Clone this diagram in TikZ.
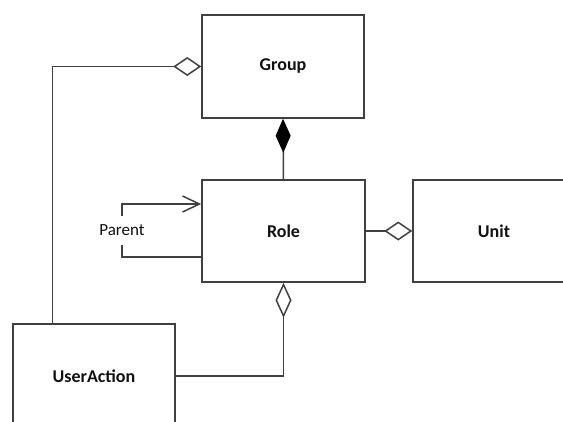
\documentclass[tikz,border=0pt]{standalone}
\usepackage{fontspec}
\setmainfont{Carlito}
\usetikzlibrary{arrows.meta,calc}
\definecolor{linec}{HTML}{404040}
\definecolor{textc}{HTML}{111111}
\tikzset{
  cls/.style={draw=linec, line width=1.5pt, fill=white, rectangle, minimum width=162pt, minimum height=103pt, inner sep=0pt, text=textc, font=\fontsize{18}{21}\selectfont\bfseries},
  conn/.style={draw=linec, line width=1.5pt},
  lbl/.style={fill=white, inner xsep=1pt, inner ysep=9pt, text=textc, font=\fontsize{17}{20}\selectfont}
}
\begin{document}
\begin{tikzpicture}[x=1pt, y=-1pt]
\useasboundingbox (0,0) rectangle (563,421);
\clip (0,0) rectangle (563,421);
\node[cls] (group) at (283,66.5) {Group};
\node[cls, minimum height=102pt, minimum width=163pt] (role) at (283.5,231) {Role};
\node[cls, minimum height=102pt] (unit) at (494,231) {Unit};
\node[cls, minimum height=104pt] (ua) at (94,376) {UserAction};
\coordinate (uatop) at ($(ua.north west)+(40,0)$);
\coordinate (selfin) at ($(role.west)+(0,-27)$);
\coordinate (selfout) at ($(role.west)+(0,26)$);
\coordinate (loopx) at (122,0);
% UserAction -> Group (aggregation)
\draw[conn, -{Diamond[open, length=28pt, width=19pt, line width=1.5pt]}] (uatop) |- (group.west);
% Group <>- Role (composition)
\draw[conn, {Diamond[length=34pt, width=15pt, fill=black, color=black]}-] (group.south) -- (role.north);
% Role - Unit
\draw[conn, -{Diamond[open, length=28pt, width=19pt, line width=1.5pt]}] (role.east) -- (unit.west);
% UserAction - Role
\draw[conn, -{Diamond[open, length=35pt, width=16pt, line width=1.5pt]}] (ua.east) -| (role.south);
% self association
\draw[conn, -{Straight Barb[length=17pt, width=16pt, line width=1.5pt]}] (selfout) -- (selfout -| loopx) -- (selfin -| loopx) node[lbl, midway] {Parent} -- (selfin);
\end{tikzpicture}
\end{document}
